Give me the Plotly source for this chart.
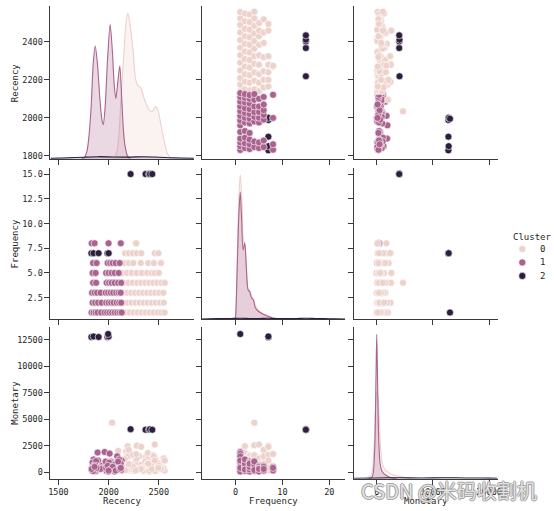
import plotly.graph_objects as go

# ---------------- data ----------------
variables = ["Recency", "Frequency", "Monetary"]
cluster_ids = [0, 1, 2]

# Cluster 0 customers
c0_recency = [2095, 2140, 2175, 2210, 2250, 2290, 2330, 2370, 2410, 2450, 2490, 2525, 2558,
              2150, 2190, 2230, 2270, 2310, 2350, 2390, 2430, 2470, 2510, 2550,
              2145, 2185, 2225, 2265, 2305, 2345, 2385, 2425, 2465, 2505, 2545,
              2035, 2150, 2195, 2240, 2285, 2325, 2365, 2405, 2445, 2485, 2525, 2560,
              2140, 2185, 2230, 2280, 2330, 2385, 2430, 2460, 2500,
              2160, 2200, 2245, 2320, 2395, 2450, 2520,
              2165, 2200, 2240, 2280, 2325, 2460, 2495,
              2270, 2275]
c0_frequency = [1, 1, 1, 1, 1, 1, 1, 1, 1, 1, 1, 1, 1,
                2, 2, 2, 2, 2, 2, 2, 2, 2, 2, 2,
                3, 3, 3, 3, 3, 3, 3, 3, 3, 3, 3,
                4, 4, 4, 4, 4, 4, 4, 4, 4, 4, 4, 4,
                5, 5, 5, 5, 5, 5, 5, 5, 5,
                6, 6, 6, 6, 6, 6, 6,
                7, 7, 7, 7, 7, 7, 7,
                8, 8]
c0_monetary = [2000, 120, 1950, 300, 80, 600, 200, 1400, 50, 900, 350, 700, 150,
               500, 2450, 150, 1100, 700, 90, 1800, 300, 1200, 500, 1300,
               400, 1600, 250, 900, 1500, 150, 1200, 600, 100, 800, 400,
               4670, 800, 1500, 300, 2540, 700, 1000, 120, 1600, 900, 400, 1100,
               1000, 200, 700, 1300, 400, 800, 300, 2600, 600,
               1220, 2100, 500, 300, 800, 1500, 300,
               175, 760, 1630, 2490, 2390, 1100, 400,
               175, 1710]

# Cluster 1 customers
c1_recency = [1830, 1850, 1870, 1890, 1925, 1960, 1985, 2010, 2035, 2060, 2085, 2110, 2130,
              1840, 1865, 1895, 1930, 1975, 2000, 2025, 2050, 2080, 2105, 2125,
              1835, 1860, 1885, 1920, 1970, 1995, 2020, 2045, 2075, 2100, 2120,
              1845, 1875, 1980, 2005, 2030, 2060, 2095, 2125,
              1840, 1870, 1975, 2000, 2030, 2060, 2100,
              1845, 1880, 1990, 2015, 2040, 2070, 2110,
              1831, 1860, 1999, 2121]
c1_frequency = [1, 1, 1, 1, 1, 1, 1, 1, 1, 1, 1, 1, 1,
                2, 2, 2, 2, 2, 2, 2, 2, 2, 2, 2,
                3, 3, 3, 3, 3, 3, 3, 3, 3, 3, 3,
                4, 4, 4, 4, 4, 4, 4, 4,
                5, 5, 5, 5, 5, 5, 5,
                6, 6, 6, 6, 6, 6, 6,
                8, 8, 8, 8]
c1_monetary = [300, 1200, 80, 1850, 600, 1900, 500, 1750, 900, 50, 1500, 400, 1100,
               900, 200, 1100, 400, 600, 100, 1000, 300, 800, 1200, 250,
               150, 700, 400, 300, 1000, 50, 900, 600, 250, 500, 800,
               500, 1050, 100, 900, 300, 700, 1000, 200,
               200, 600, 400, 50, 500, 350, 300,
               100, 400, 600, 250, 500, 150, 300,
               300, 500, 150, 400]

# Cluster 2 customers
c2_recency = [2219, 2368, 2403, 2412, 2435, 1828, 1850, 1900, 1988, 2000, 1995]
c2_frequency = [15, 15, 15, 15, 15, 7, 7, 7, 7, 7, 1]
c2_monetary = [4050, 4000, 4000, 4050, 4000, 12750, 12800, 12750, 12750, 12800, 13030]

# Diagonal KDE curves (density, arbitrary units)
kde_recency_c0_x = [2060, 2085, 2104, 2120, 2137, 2155, 2170, 2190, 2205, 2220, 2246, 2266, 2292,
                    2319, 2358, 2401, 2434, 2467, 2490, 2517, 2550, 2583, 2620]
kde_recency_c0_y = [0, 8, 26, 55, 82, 110, 133, 145.3, 140, 129, 106, 81, 73,
                    71, 59, 49, 47, 52, 49, 36, 19, 6, 0]
kde_recency_c1_x = [1730, 1757, 1780, 1797, 1824, 1847, 1866, 1890, 1913, 1933, 1946, 1966, 1989,
                    2015, 2038, 2054, 2071, 2088, 2111, 2131, 2147, 2163, 2187, 2215]
kde_recency_c1_y = [0, 1, 6, 16, 49, 96, 112.6, 93, 59, 39, 34, 53, 99,
                    134, 106, 76, 60, 73, 92.6, 59, 29, 13, 3, 0]
kde_recency_c2_x = [1420, 1600, 1750, 1900, 2050, 2200, 2350, 2500, 2650, 2850]
kde_recency_c2_y = [0.3, 0.8, 1.5, 2.0, 1.7, 1.6, 2.0, 1.5, 0.8, 0.3]

kde_frequency_c0_x = [-0.15, 0.0, 0.34, 0.7, 1.0, 1.4, 1.65, 1.96, 2.3, 2.67, 3.0, 3.37, 3.85,
                      4.2, 4.9, 6.0, 7.0, 8.0, 8.8]
kde_frequency_c0_y = [0, 3.7, 60, 123, 145.3, 115, 80, 75, 54, 30, 29, 24, 20,
                      14, 9, 5.5, 4, 1.5, 0]
kde_frequency_c1_x = [-0.15, 0.0, 0.34, 0.7, 1.0, 1.3, 1.6, 1.96, 2.3, 2.67, 3.0, 3.37, 3.85,
                      4.2, 4.9, 6.0, 7.0, 8.0, 8.8]
kde_frequency_c1_y = [0, 3, 50, 105, 128, 100, 70, 77, 52, 30, 28, 22, 19,
                      12, 8, 5, 3, 1, 0]
kde_frequency_c2_x = [-7.2, -4, -1, 1, 3, 5, 7, 9, 11, 13, 15, 17, 19, 21, 23.4]
kde_frequency_c2_y = [0.4, 0.8, 1.0, 1.2, 1.0, 1.0, 1.2, 1.0, 1.0, 1.0, 1.2, 1.0, 0.8, 0.6, 0.4]

kde_monetary_c0_x = [-2000, -1000, -500, -200, 100, 400, 700, 1000, 1500, 2000, 2800, 3600, 4500, 5200, 6000]
kde_monetary_c0_y = [0, 4, 30, 75, 89, 65, 30, 15, 9, 7, 4, 3, 2, 1, 0]
kde_monetary_c1_x = [-1500, -800, -400, -150, 0, 150, 350, 600, 900, 1300, 1800, 2500, 3500]
kde_monetary_c1_y = [0, 2, 25, 95, 145, 100, 40, 15, 8, 5, 3, 1, 0]
kde_monetary_c2_x = [-4020, 0, 4000, 8000, 12000, 16000, 20000, 21500]
kde_monetary_c2_y = [0.6, 0.9, 1.1, 0.9, 1.1, 0.9, 0.7, 0.6]

x_tick_vals = {"Recency": [1500, 2000, 2500], "Frequency": [0, 10, 20], "Monetary": [0, 10000, 20000]}
y_tick_vals = {"Recency": [1800, 2000, 2200, 2400],
               "Frequency": [2.5, 5.0, 7.5, 10.0, 12.5, 15.0],
               "Monetary": [0, 2500, 5000, 7500, 10000, 12500]}

# ---------------- styling / layout ----------------
W, H = 554, 511
FONT = "DejaVu Sans Mono"
colors = {0: "#edd1cb", 1: "#aa638e", 2: "#2d1e3e"}
fills = {0: "rgba(237,209,203,0.25)", 1: "rgba(170,99,142,0.25)", 2: "rgba(45,30,62,0.25)"}

x_range = {"Recency": [1420, 2850], "Frequency": [-7.2, 23.4], "Monetary": [-4020, 21500]}
y_range = {"Recency": [1784, 2590], "Frequency": [0.3, 15.65], "Monetary": [-630, 13690]}
y_fmt = {"Recency": "d", "Frequency": ".1f", "Monetary": "d"}

col_px = [(49, 194), (202, 347), (356, 501)]
row_px = [(6, 159.3), (168.3, 320.7), (328.3, 480.7)]

points = {
    0: {"Recency": c0_recency, "Frequency": c0_frequency, "Monetary": c0_monetary},
    1: {"Recency": c1_recency, "Frequency": c1_frequency, "Monetary": c1_monetary},
    2: {"Recency": c2_recency, "Frequency": c2_frequency, "Monetary": c2_monetary},
}
kdes = {
    "Recency": {0: (kde_recency_c0_x, kde_recency_c0_y), 1: (kde_recency_c1_x, kde_recency_c1_y),
                2: (kde_recency_c2_x, kde_recency_c2_y)},
    "Frequency": {0: (kde_frequency_c0_x, kde_frequency_c0_y), 1: (kde_frequency_c1_x, kde_frequency_c1_y),
                  2: (kde_frequency_c2_x, kde_frequency_c2_y)},
    "Monetary": {0: (kde_monetary_c0_x, kde_monetary_c0_y), 1: (kde_monetary_c1_x, kde_monetary_c1_y),
                 2: (kde_monetary_c2_x, kde_monetary_c2_y)},
}

AX_COLOR = "#3a3a3a"
TICK_FONT = dict(family=FONT, size=8.5, color="#262626")


def base_axis():
    return dict(showgrid=False, zeroline=False, showline=True, linecolor=AX_COLOR, linewidth=1,
                ticks="outside", ticklen=5, tickwidth=1, tickcolor=AX_COLOR, tickfont=TICK_FONT,
                fixedrange=True)


fig = go.Figure()
layout = dict(width=W, height=H, margin=dict(l=0, r=0, t=0, b=0), autosize=False,
              paper_bgcolor="white", plot_bgcolor="white", showlegend=False, hovermode=False)

overlay_id = 10
for r, yv in enumerate(variables):
    for c, xv in enumerate(variables):
        k = r * 3 + c + 1
        xs = "" if k == 1 else str(k)
        xa = base_axis()
        xa.update(domain=[col_px[c][0] / W, col_px[c][1] / W], anchor="y" + xs,
                  range=x_range[xv], tickvals=x_tick_vals[xv], showticklabels=(r == 2),
                  tickformat="d")
        ya = base_axis()
        ya.update(domain=[1 - row_px[r][1] / H, 1 - row_px[r][0] / H], anchor="x" + xs,
                  range=y_range[yv], tickvals=y_tick_vals[yv], showticklabels=(c == 0),
                  tickformat=y_fmt[yv])
        layout["xaxis" + xs] = xa
        layout["yaxis" + xs] = ya

        if r == c:
            # keep the panel's own axes alive
            fig.add_trace(go.Scatter(x=[], y=[], xaxis="x" + xs, yaxis="y" + xs, showlegend=False))
            oid = str(overlay_id)
            overlay_id += 1
            peak = max(max(kdes[xv][h][1]) for h in cluster_ids)
            layout["yaxis" + oid] = dict(overlaying="y" + xs, anchor="x" + xs, visible=False,
                                         range=[0, peak * 1.05], fixedrange=True)
            for h in cluster_ids:
                kx, ky = kdes[xv][h]
                fig.add_trace(go.Scatter(
                    x=kx, y=ky, xaxis="x" + xs, yaxis="y" + oid, mode="lines",
                    line=dict(color=colors[h], width=1.1, shape="spline", smoothing=0.8),
                    fill="tozeroy", fillcolor=fills[h], showlegend=False))
        else:
            pair = {xv, yv}
            if pair == {"Recency", "Frequency"}:
                order = [2, 0, 1]
            elif xv == "Monetary":
                order = [1, 0, 2]
            else:
                order = [0, 1, 2]
            for h in order:
                fig.add_trace(go.Scatter(
                    x=points[h][xv], y=points[h][yv], xaxis="x" + xs, yaxis="y" + xs,
                    mode="markers",
                    marker=dict(color=colors[h], size=7, line=dict(color="white", width=0.6)),
                    showlegend=False))

fig.update_layout(**layout)

LABEL_FONT = dict(family=FONT, size=9, color="#262626")
annotations = []
for r, v in enumerate(variables):
    cy = (row_px[r][0] + row_px[r][1]) / 2
    annotations.append(dict(text=v, x=13 / W, y=1 - cy / H, xref="paper", yref="paper",
                            showarrow=False, textangle=-90, font=LABEL_FONT,
                            xanchor="center", yanchor="middle"))
for c, v in enumerate(variables):
    cx = (col_px[c][0] + col_px[c][1]) / 2
    annotations.append(dict(text=v, x=cx / W, y=1 - 503 / H, xref="paper", yref="paper",
                            showarrow=False, font=LABEL_FONT, xanchor="center", yanchor="middle"))

# legend (title + entries)
annotations.append(dict(text="Cluster", x=515 / W, y=1 - 237.5 / H, xref="paper", yref="paper",
                        showarrow=False, font=dict(family=FONT, size=9, color="#262626"),
                        xanchor="left", yanchor="middle"))
legend_y = [250, 263.5, 277]
shapes = []
for h, ly in zip(cluster_ids, legend_y):
    annotations.append(dict(text=str(h), x=542 / W, y=1 - ly / H, xref="paper", yref="paper",
                            showarrow=False, font=dict(family=FONT, size=9, color="#262626"),
                            xanchor="left", yanchor="middle"))
    rr = 3.6
    shapes.append(dict(type="circle", xref="paper", yref="paper",
                       x0=(526 - rr) / W, x1=(526 + rr) / W,
                       y0=1 - (ly + rr) / H, y1=1 - (ly - rr) / H,
                       fillcolor=colors[h], line=dict(color="white", width=0.6)))

# watermark
annotations.append(dict(text="CSDN @米码收割机", x=452 / W, y=1 - 492 / H, xref="paper", yref="paper",
                        showarrow=False,
                        font=dict(family="Noto Sans CJK SC", size=20, color="rgba(255,255,255,0.75)",
                                  shadow="-1px 0 #8a8a8a, 1px 0 #8a8a8a, 0 1px #8a8a8a, 0 -1px #8a8a8a"),
                        xanchor="center", yanchor="middle"))

fig.update_layout(annotations=annotations, shapes=shapes)
fig.write_html("out.html", config={"displayModeBar": False, "staticPlot": True},
               post_script="document.body.style.margin='0';document.body.style.overflow='hidden';")
